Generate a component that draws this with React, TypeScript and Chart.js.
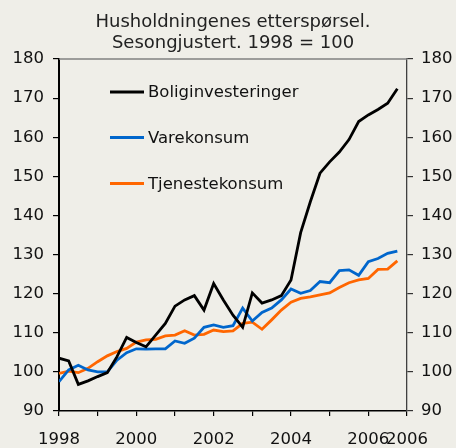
import React, { useEffect, useRef } from 'react';
import { Chart, registerables } from 'chart.js';

Chart.register(...registerables);

const titleLines = ['Husholdningenes etterspørsel.', 'Sesongjustert. 1998 = 100'];

const quarters = [
  1998, 1998.25, 1998.5, 1998.75,
  1999, 1999.25, 1999.5, 1999.75,
  2000, 2000.25, 2000.5, 2000.75,
  2001, 2001.25, 2001.5, 2001.75,
  2002, 2002.25, 2002.5, 2002.75,
  2003, 2003.25, 2003.5, 2003.75,
  2004, 2004.25, 2004.5, 2004.75,
  2005, 2005.25, 2005.5, 2005.75,
  2006, 2006.25, 2006.5, 2006.75,
];

const seriesNames = ['Boliginvesteringer', 'Varekonsum', 'Tjenestekonsum'];

const boliginvesteringer = [
  103.5, 102.8, 96.8, 97.7, 98.8, 99.8, 103.9, 108.8, 107.5, 106.4, 109.4, 112.4,
  116.8, 118.4, 119.5, 115.8, 122.6, 118.4, 114.5, 111.4, 120.2, 117.6, 118.4, 119.5,
  123.5, 135.6, 143.5, 150.8, 153.7, 156.2, 159.4, 164.0, 165.7, 167.1, 168.7, 172.4,
];

const varekonsum = [
  97.5, 100.5, 101.7, 100.5, 100.0, 100.0, 103.0, 104.9, 105.9, 105.8, 105.9, 105.9,
  107.9, 107.3, 108.6, 111.4, 112.0, 111.4, 111.8, 116.3, 113.0, 115.2, 116.3, 118.4,
  121.2, 120.1, 120.8, 123.1, 122.8, 125.9, 126.1, 124.7, 128.2, 129.0, 130.3, 130.9,
];

const tjenestekonsum = [
  99.6, 100.2, 99.8, 100.9, 102.6, 104.1, 105.2, 106.0, 107.6, 108.2, 108.3, 109.2,
  109.4, 110.5, 109.4, 109.6, 110.7, 110.3, 110.5, 112.4, 112.7, 110.9, 113.3, 115.8,
  117.8, 118.8, 119.2, 119.7, 120.2, 121.6, 122.8, 123.5, 123.9, 126.2, 126.3, 128.4,
];

const seriesValues = [boliginvesteringer, varekonsum, tjenestekonsum];
const seriesColors = ['#000000', '#0066cc', '#ff6600'];

const yMin = 90;
const yMax = 180;
const yStep = 10;
const xMin = 1998;
const xMax = 2007;
const xTickValues = [1998, 1999, 2000, 2001, 2002, 2003, 2004, 2005, 2006, 2007];
const xTickTexts = ['1998', '', '2000', '', '2002', '', '2004', '', '2006', '2006'];

const FONT = '"DejaVu Sans", Verdana, sans-serif';
const BG = '#efeee8';

const overlayPlugin = {
  id: 'overlay',
  afterDraw(chart: any) {
    const { ctx, chartArea } = chart;
    ctx.save();
    // top frame line
    ctx.strokeStyle = '#808080';
    ctx.lineWidth = 1.5;
    ctx.beginPath();
    ctx.moveTo(chartArea.left, chartArea.top);
    ctx.lineTo(chartArea.right, chartArea.top);
    ctx.stroke();

    // title
    ctx.fillStyle = '#222';
    ctx.font = `18px ${FONT}`;
    ctx.textAlign = 'center';
    ctx.textBaseline = 'alphabetic';
    const cx = (chartArea.left + chartArea.right) / 2;
    ctx.fillText(titleLines[0], cx, 27);
    ctx.fillText(titleLines[1], cx, 48);

    // legend
    ctx.font = `16.5px ${FONT}`;
    ctx.textAlign = 'left';
    ctx.textBaseline = 'middle';
    const lx = chartArea.left + 51;
    const offsets = [33, 78.5, 124.5];
    seriesNames.forEach((name, i) => {
      const y = chartArea.top + offsets[i];
      ctx.strokeStyle = seriesColors[i];
      ctx.lineWidth = 3;
      ctx.beginPath();
      ctx.moveTo(lx, y);
      ctx.lineTo(lx + 34, y);
      ctx.stroke();
      ctx.fillStyle = '#111';
      ctx.fillText(name, lx + 38, y + 1);
    });
    ctx.restore();
  },
};

export default function App() {
  const canvasRef = useRef<HTMLCanvasElement | null>(null);

  useEffect(() => {
    document.body.style.margin = '0';
    document.body.style.background = BG;
    const canvas = canvasRef.current;
    if (!canvas) return;

    const datasets = seriesNames.map((name, i) => ({
      label: name,
      data: quarters.map((q, j) => ({ x: q, y: seriesValues[i][j] })),
      borderColor: seriesColors[i],
      backgroundColor: seriesColors[i],
      borderWidth: 2.8,
      pointRadius: 0,
      tension: 0,
      yAxisID: 'y',
    }));

    const tickFont = { family: FONT, size: 16.5 };

    const chart = new Chart(canvas, {
      type: 'line',
      data: { datasets },
      options: {
        animation: false,
        responsive: false,
        maintainAspectRatio: false,
        layout: { padding: { top: 59, left: 0, right: 0, bottom: 0 } },
        plugins: {
          legend: { display: false },
          title: { display: false },
          tooltip: { enabled: false },
        },
        scales: {
          x: {
            type: 'linear',
            min: xMin,
            max: xMax,
            afterBuildTicks(scale: any) {
              scale.ticks = xTickValues.map((v) => ({ value: v }));
            },
            ticks: {
              autoSkip: false,
              maxRotation: 0,
              minRotation: 0,
              padding: 14,
              color: '#111',
              font: tickFont,
              callback: (value: any) => {
                const idx = xTickValues.indexOf(Number(value));
                return idx >= 0 ? xTickTexts[idx] : '';
              },
            },
            grid: {
              drawOnChartArea: false,
              drawTicks: true,
              tickLength: 5,
              color: '#000',
              lineWidth: 1.2,
            },
            border: { display: true, color: '#000', width: 1.5 },
            afterFit(scale: any) {
              scale.height = 37;
            },
          },
          y: {
            position: 'left',
            min: yMin,
            max: yMax,
            ticks: { stepSize: yStep, padding: 9, color: '#111', font: tickFont },
            grid: {
              drawOnChartArea: false,
              drawTicks: true,
              tickLength: 6,
              color: '#000',
              lineWidth: 1.2,
            },
            border: { display: true, color: '#000', width: 2 },
            afterFit(scale: any) {
              scale.width = 59;
            },
          },
          y2: {
            position: 'right',
            display: true,
            min: yMin,
            max: yMax,
            ticks: { stepSize: yStep, padding: 8, color: '#111', font: tickFont },
            grid: {
              drawOnChartArea: false,
              drawTicks: true,
              tickLength: 6,
              color: '#333',
              lineWidth: 1.2,
            },
            border: { display: true, color: '#404040', width: 1.3 },
            afterFit(scale: any) {
              scale.width = 49;
            },
          },
        },
      },
      plugins: [overlayPlugin],
    } as any);

    return () => chart.destroy();
  }, []);

  return (
    <div style={{ width: 456, height: 448, background: BG }}>
      <canvas ref={canvasRef} width={456} height={448} style={{ display: 'block' }} />
    </div>
  );
}
